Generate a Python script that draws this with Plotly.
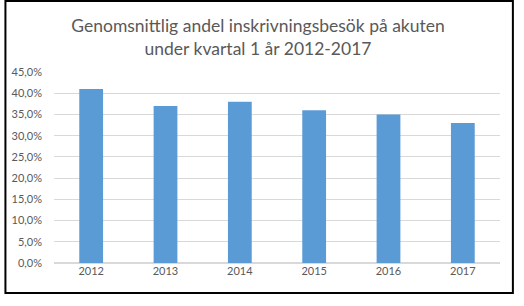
import plotly.graph_objects as go

years = ["2012", "2013", "2014", "2015", "2016", "2017"]
values = [0.41, 0.37, 0.38, 0.36, 0.35, 0.33]
yticks = [0, 0.05, 0.10, 0.15, 0.20, 0.25, 0.30, 0.35, 0.40, 0.45]

W, H = 524, 306
L, R, T, B = 50, 24, 72, 43
pw, ph = W - L - R, H - T - B

fig = go.Figure(go.Bar(x=years, y=values, marker=dict(color="#5b9bd5", line=dict(width=0))))

fig.update_layout(
    width=W, height=H,
    margin=dict(l=L, r=R, t=T, b=B),
    paper_bgcolor="white", plot_bgcolor="white",
    separators=",.",
    bargap=0.68,
    showlegend=False,
    title=dict(text="Genomsnittlig andel inskrivningsbesök på akuten<br>under kvartal 1 år 2012-2017",
               x=258 / W, xanchor="center", y=1 - 32 / H, yanchor="middle",
               font=dict(family="Lato, Open Sans, sans-serif", size=17.5, color="#595959")),
    font=dict(family="Lato, Open Sans, sans-serif", size=11, color="#595959"),
    xaxis=dict(showgrid=False, showline=False, ticks="", tickfont=dict(size=11, color="#595959")),
    yaxis=dict(range=[0, 0.45], tickvals=yticks, tickformat=".1%", showgrid=True,
               gridcolor="#d9d9d9", gridwidth=1, zeroline=True, zerolinecolor="#d9d9d9",
               showline=False, ticks="", ticklabelstandoff=11,
               tickfont=dict(size=11, color="#595959")),
    shapes=[dict(type="rect", xref="paper", yref="paper",
                 x0=(1 - L) / pw, x1=(513 - L) / pw,
                 y0=(H - B - 293) / ph, y1=(H - B - 1) / ph,
                 line=dict(color="black", width=2), fillcolor="rgba(0,0,0,0)", layer="above")],
)

fig.write_html("out.html")
